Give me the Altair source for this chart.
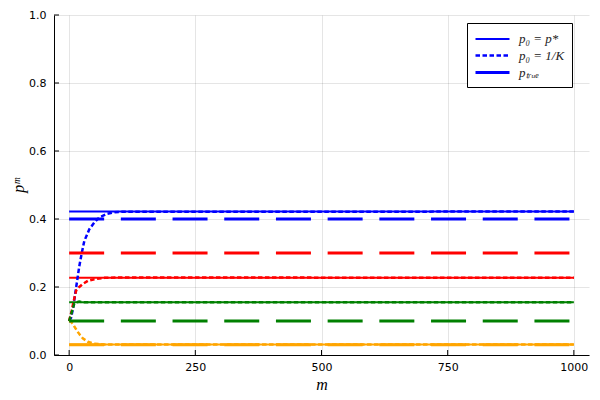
import altair as alt
import pandas as pd

# ---- data ----
cats = ["blue", "red", "green", "orange"]
colors = ["#0000ff", "#ff0000", "#008000", "#ffa500"]

p_star = [0.422, 0.227, 0.155, 0.031]      # p0 = p*  (flat)
p_true = [0.40, 0.30, 0.10, 0.03]          # true p (dashed)

m_ends = [0, 1000]

# p0 = 1/K trajectories (dotted)
m_blue = [0, 4, 8, 12, 16, 20, 25, 30, 40, 50, 60, 75, 90, 100, 1000]
p_blue = [0.10, 0.11, 0.14, 0.18, 0.22, 0.26, 0.30, 0.335, 0.37, 0.39, 0.405, 0.415, 0.42, 0.421, 0.422]
m_red = [0, 5, 10, 14, 20, 27, 37, 50, 70, 100, 1000]
p_red = [0.10, 0.13, 0.165, 0.19, 0.20, 0.209, 0.218, 0.223, 0.227, 0.228, 0.227]
m_green = [0, 5, 10, 15, 20, 30, 1000]
p_green = [0.10, 0.125, 0.15, 0.155, 0.157, 0.155, 0.155]
m_orange = [0, 4, 7, 12, 17, 22, 27, 37, 50, 70, 1000]
p_orange = [0.10, 0.097, 0.092, 0.08, 0.068, 0.058, 0.049, 0.039, 0.033, 0.031, 0.031]

x_ticks = [0, 250, 500, 750, 1000]
y_ticks = [0.0, 0.2, 0.4, 0.6, 0.8, 1.0]

styles = ["p₀ = p*", "p₀ = 1/K", "pₜᵣᵤₑ"]

rows = []
for c, ps in zip(cats, p_star):
    for m in m_ends:
        rows.append({"m": m, "p": ps, "cat": c, "style": styles[0]})
curves = {"blue": (m_blue, p_blue), "red": (m_red, p_red),
          "green": (m_green, p_green), "orange": (m_orange, p_orange)}
for c in cats:
    ms, ps = curves[c]
    for m, p in zip(ms, ps):
        rows.append({"m": m, "p": p, "cat": c, "style": styles[1]})
for c, pt in zip(cats, p_true):
    for m in m_ends:
        rows.append({"m": m, "p": pt, "cat": c, "style": styles[2]})
df = pd.DataFrame(rows)
df["grp"] = df["cat"] + "|" + df["style"]

xscale = alt.Scale(domain=[-30, 1030], nice=False, zero=False)
yscale = alt.Scale(domain=[0, 1], nice=False, zero=False)

leg = dict(title=None, orient="none", legendX=413, legendY=8,
           symbolType="M-1,0H3.25", symbolSize=256,
           symbolStrokeColor="#0000ff",
           labelFont="Liberation Serif", labelFontStyle="italic",
           labelFontSize=13, labelColor="#222", labelOffset=26,
           strokeColor="black", fillColor="white",
           padding=7, rowPadding=0, cornerRadius=0,
           labelLimit=200)

lines = alt.Chart(df).mark_line(clip=True).encode(
    x=alt.X("m:Q", scale=xscale,
            axis=alt.Axis(values=x_ticks, title="m", format="d", ticks=False,
                          titleFont="Liberation Serif", titleFontStyle="italic",
                          titleFontWeight="normal", titleFontSize=16, titlePadding=4,
                          labelPadding=6)),
    y=alt.Y("p:Q", scale=yscale,
            axis=alt.Axis(values=y_ticks, title="pᵐ", format=".1f", ticks=False,
                          titleFont="Liberation Serif", titleFontStyle="italic",
                          titleFontWeight="normal", titleFontSize=16, titlePadding=2,
                          labelPadding=8)),
    color=alt.Color("cat:N", scale=alt.Scale(domain=cats, range=colors), legend=None),
    strokeDash=alt.StrokeDash(
        "style:N",
        scale=alt.Scale(domain=styles, range=[[1, 0], [4.5, 2.5], [35, 16.7]]),
        legend=alt.Legend(**leg)),
    strokeWidth=alt.StrokeWidth(
        "style:N",
        scale=alt.Scale(domain=styles, range=[2, 3, 4.5]),
        legend=alt.Legend(**leg)),
    detail="grp:N",
    order=alt.Order("m:Q"),
)

xt = alt.Chart(pd.DataFrame({"m": x_ticks})).mark_rule(color="black", strokeWidth=1).encode(
    x=alt.X("m:Q", scale=xscale), y=alt.value(340), y2=alt.value(335))
yt = alt.Chart(pd.DataFrame({"p": y_ticks})).mark_rule(color="black", strokeWidth=1).encode(
    y=alt.Y("p:Q", scale=yscale), x=alt.value(0), x2=alt.value(5))

chart = alt.layer(lines, xt, yt).properties(
    width=535, height=340,
    autosize=alt.AutoSizeParams(type="none"),
    padding={"left": 46, "top": 7, "right": 3, "bottom": 37},
).configure_view(stroke=None).configure_axis(
    domainColor="black", domainWidth=1,
    gridColor="black", gridOpacity=0.1, gridWidth=1,
    labelFont="DejaVu Sans", labelFontSize=11, labelColor="black",
    titleColor="black",
)

chart.save("out.html", embed_options={"renderer": "svg", "actions": False})
